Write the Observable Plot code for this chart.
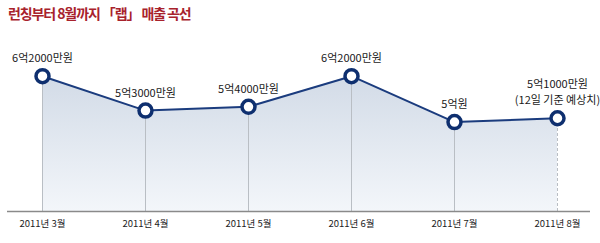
<!DOCTYPE html>
<html><head><meta charset="utf-8">
<script src="https://cdn.jsdelivr.net/npm/d3@7"></script>
<script src="https://cdn.jsdelivr.net/npm/@observablehq/plot@0.6"></script>
<style>
body{margin:0;background:#fff;font-family:"Noto Sans CJK KR","Noto Sans",sans-serif;}
#wrap{position:relative;width:600px;height:243px;overflow:hidden;}
#title{position:absolute;left:8px;top:3px;font-size:14px;font-weight:bold;color:#a8222c;letter-spacing:-1.1px;}
</style></head>
<body><div id="wrap"><div id="title">런칭부터 8월까지 「랩」 매출 곡선</div><div id="chart"></div></div>
<script>
const months = ["2011년 3월","2011년 4월","2011년 5월","2011년 6월","2011년 7월","2011년 8월"];
const values = [6.2, 5.3, 5.4, 6.2, 5.0, 5.1];
const labels = ["6억2000만원","5억3000만원","5억4000만원","6억2000만원","5억원","5억1000만원\n(12일 기준 예상치)"];
const base = 2.66;
const data = months.map((m,i)=>({month:m, value:values[i], label:labels[i], i}));

const gradient = () => {
  const svg = d3.create("svg:defs");
  const g = svg.append("linearGradient").attr("id","areaGrad").attr("x1",0).attr("y1",0).attr("x2",0).attr("y2",1);
  g.append("stop").attr("offset","0%").attr("stop-color","#d2dbe7");
  g.append("stop").attr("offset","100%").attr("stop-color","#f3f6fa");
  return svg.node();
};

const chart = Plot.plot({
  width:600, height:243,
  marginLeft:41, marginRight:43, marginTop:0, marginBottom:32,
  style:{fontFamily:'"Noto Sans CJK KR","Noto Sans",sans-serif', background:"transparent"},
  x:{type:"point", domain:months, padding:0},
  y:{domain:[base,6.2], range:[211,75.7], axis:null},
  marks:[
    gradient,
    Plot.areaY(data,{x:"month", y1:base, y2:"value", fill:"url(#areaGrad)"}),
    Plot.ruleX(data.filter(d=>d.i<5),{x:"month", y1:base, y2:"value", stroke:"#b9bec4", strokeWidth:1}),
    Plot.ruleX(data.filter(d=>d.i===5),{x:"month", y1:base, y2:"value", stroke:"#b9bec4", strokeWidth:1, strokeDasharray:"3,2"}),
    Plot.ruleY([base],{insetLeft:-34, insetRight:-33, stroke:"#8a8a8a", strokeWidth:1.5}),
    Plot.axisX({tickSize:0, tickPadding:9, fontSize:9.5, color:"#222", label:null, style:{letterSpacing:"-0.5px"}}),
    Plot.lineY(data,{x:"month", y:"value", stroke:"#1b3c7e", strokeWidth:2}),
    Plot.dot(data,{x:"month", y:"value", r:6.5, fill:"#fff", stroke:"#0e2f6f", strokeWidth:3.5}),
    Plot.text(data,{x:"month", y:"value", text:"label", lineAnchor:"bottom", dy:-14, fontSize:11, fill:"#1a1a1a", lineHeight:1.45})
  ]
});
document.getElementById("chart").appendChild(chart);
</script></body></html>
